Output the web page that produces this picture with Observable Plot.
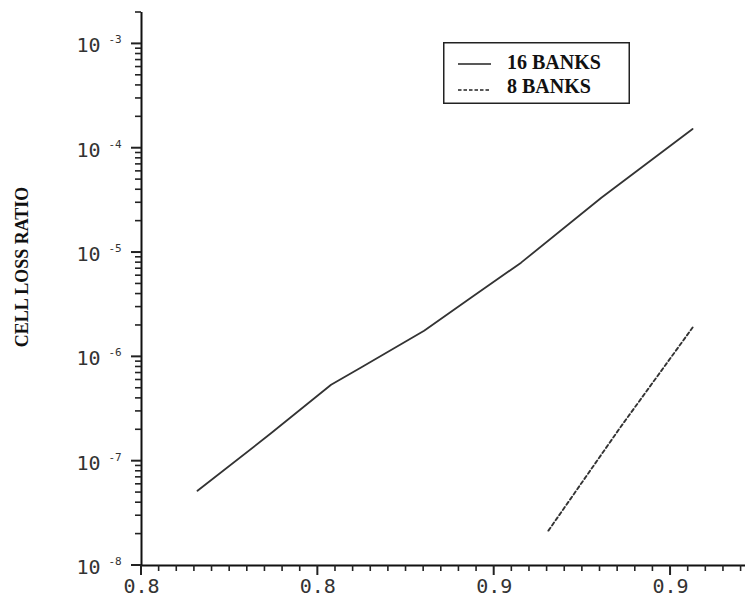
<!DOCTYPE html>
<html><head><meta charset="utf-8">
<script src="https://cdn.jsdelivr.net/npm/d3@7"></script>
<script src="https://cdn.jsdelivr.net/npm/@observablehq/plot@0.6"></script>
<style>
body{margin:0;background:#fff}
#wrap{position:relative;width:754px;height:597px;overflow:hidden;background:#fff}
#ylabel{position:absolute;left:22px;top:267px;transform:translate(-50%,-50%) rotate(-90deg);font:bold 18px "Liberation Serif";white-space:nowrap;color:#111}
#legend{position:absolute;left:443px;top:42px}
</style></head><body>
<div id="wrap"><div id="ylabel"></div><div id="legend"></div></div>
<script>
// ---- data ----
const xTickValues = [0.80, 0.84, 0.88, 0.92];
const xTickLabels = ["0.8", "0.8", "0.9", "0.9"];
const yTickValues = [1e-8, 1e-7, 1e-6, 1e-5, 1e-4, 1e-3];
const yTickBase = ["10", "10", "10", "10", "10", "10"];
const yTickExponents = ["-8", "-7", "-6", "-5", "-4", "-3"];
const yAxisTitle = "CELL LOSS RATIO";
const seriesNames = ["16 BANKS", "8 BANKS"];
const load16 = [0.8127, 0.8293, 0.8430, 0.8498, 0.8641, 0.8748, 0.8861, 0.9043, 0.9250];
const loss16 = [5.2e-8, 1.84e-7, 5.4e-7, 7.9e-7, 1.78e-6, 3.7e-6, 8.0e-6, 3.35e-5, 1.53e-4];
const load8 = [0.8923, 0.9084, 0.9250];
const loss8 = [2.16e-8, 2.05e-7, 1.91e-6];

const xDomain = [0.80, 0.937];
const yDomain = [1e-8, 2e-3];

const data16 = load16.map((x, i) => ({load: x, loss: loss16[i], series: seriesNames[0]}));
const data8 = load8.map((x, i) => ({load: x, loss: loss8[i], series: seriesNames[1]}));

const xMinor = d3.range(0, 35).map(i => +(0.80 + i * 0.004).toFixed(4))
  .filter(v => v <= xDomain[1] && !xTickValues.some(t => Math.abs(t - v) < 1e-6));
const yMinor = [];
for (let e = -8; e <= -3; e++) for (let m = 2; m <= 9; m++) {
  const v = m * Math.pow(10, e);
  if (v <= yDomain[1] * 1.0001) yMinor.push(v);
}

const W = 754, H = 597, ML = 141, MR = 9, MT = 12, MB = 32;
const ink = "#111";
const chart = Plot.plot({
  width: W, height: H,
  marginLeft: ML, marginRight: MR, marginTop: MT, marginBottom: MB,
  x: {domain: xDomain, label: null, axis: null},
  y: {type: "log", domain: yDomain, label: null, axis: null},
  style: {fontFamily: "DejaVu Sans Mono", color: ink, background: "transparent", overflow: "visible"},
  marks: [
    Plot.ruleX([xDomain[0]], {stroke: ink, strokeWidth: 2}),
    Plot.ruleY([yDomain[0]], {stroke: ink, strokeWidth: 1.8}),
    Plot.text(xTickValues, {x: d => d, frameAnchor: "bottom", text: (d, i) => xTickLabels[i],
      lineAnchor: "top", dy: 13, fontSize: 20, fill: "#333"}),
    Plot.text(yTickValues, {y: d => d, frameAnchor: "left", text: (d, i) => yTickBase[i],
      textAnchor: "end", dx: -41, dy: 2, fontSize: 20, fill: "#333"}),
    Plot.text(yTickValues, {y: d => d, frameAnchor: "left", text: (d, i) => yTickExponents[i],
      textAnchor: "start", dx: -33, dy: -4, fontSize: 11, fill: "#333"}),
    Plot.line(data16, {x: "load", y: "loss", stroke: "#333", strokeWidth: 1.8, curve: "linear"}),
    Plot.line(data8, {x: "load", y: "loss", stroke: "#333", strokeWidth: 1.9, strokeDasharray: "3.5,2.8", curve: "linear"})
  ]
});
chart.style.position = "absolute";
chart.style.left = "0px";
chart.style.top = "0px";
document.getElementById("wrap").prepend(chart);
document.getElementById("ylabel").textContent = yAxisTitle;

// axis tick marks, positioned through Plot's own scales
const sx = chart.scale("x"), sy = chart.scale("y");
const x0 = sx.apply(xDomain[0]), y0 = sy.apply(yDomain[0]);
const tg = d3.select(chart).append("g").attr("stroke", "#222");
const addX = (vals, len, w) => vals.forEach(v => {
  const px = sx.apply(v);
  tg.append("line").attr("x1", px).attr("x2", px).attr("y1", y0).attr("y2", y0 + len).attr("stroke-width", w);
});
const addY = (vals, len, w) => vals.forEach(v => {
  const py = sy.apply(v);
  tg.append("line").attr("x1", x0 - len).attr("x2", x0).attr("y1", py).attr("y2", py).attr("stroke-width", w);
});
addX(xMinor, 6, 1.6);
addX(xTickValues, 10, 2);
addY(yMinor, 6, 1.6);
addY(yTickValues, 10, 2);

// legend (HTML overlay with inline SVG)
const lg = d3.select("#legend").append("svg").attr("width", 187).attr("height", 62);
lg.append("rect").attr("x", 0.75).attr("y", 0.75).attr("width", 185.5).attr("height", 60.5)
  .attr("fill", "#fff").attr("stroke", "#222").attr("stroke-width", 1.5);
const rows = [{y: 22, dash: null, ty: 27}, {y: 48, dash: "3.5,2", ty: 51}];
rows.forEach((r, i) => {
  lg.append("line").attr("x1", 15).attr("x2", 48).attr("y1", r.y).attr("y2", r.y)
    .attr("stroke", "#222").attr("stroke-width", 1.4).attr("stroke-dasharray", r.dash);
  lg.append("text").attr("x", 64).attr("y", r.ty).text(seriesNames[i])
    .attr("font-family", "Liberation Serif").attr("font-weight", "bold").attr("font-size", 20).attr("fill", "#111");
});
</script></body></html>
